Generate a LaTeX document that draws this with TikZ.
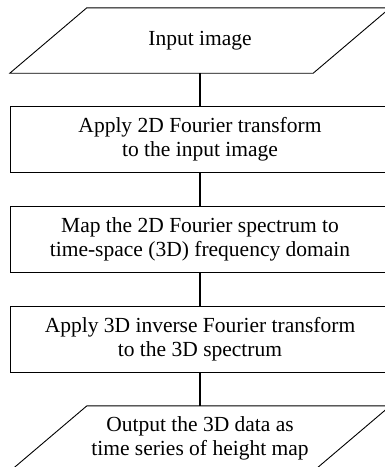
\documentclass[tikz,border=0pt]{standalone}
\usepackage{fontspec}
\setmainfont{Liberation Serif}
\usetikzlibrary{positioning}
\begin{document}
\begin{tikzpicture}[x=1pt,y=1pt,
  every node/.style={font=\fontsize{21.5}{24}\selectfont,align=center,inner sep=0pt},
  stepbox/.style={draw,line width=.9pt,minimum width=380pt,minimum height=66pt},
  iobox/.style={minimum width=303pt,minimum height=65pt},
  frame/.style={line width=.9pt},
  link/.style={line width=1.2pt}]
\useasboundingbox (0,0) rectangle (384,-467);
\node[iobox] (input) at (200,-40.5){Input image};
\node[stepbox,below=33pt of input] (fft){Apply 2D Fourier transform\\to the input image};
\node[stepbox,below=33pt of fft] (map){Map the 2D Fourier spectrum to\\time-space (3D) frequency domain};
\node[stepbox,below=33pt of map] (ifft){Apply 3D inverse Fourier transform\\to the 3D spectrum};
\node[iobox,below=33pt of ifft] (output){Output the 3D data as\\time series of height map};
% slanted in/out boxes
\foreach \n in {input,output}
  \draw[frame] ([xshift=38.5]\n.north west)--([xshift=38.5]\n.north east)
    --([xshift=-38.5]\n.south east)--([xshift=-38.5]\n.south west)--cycle;
\draw[link] (input)--(fft);
\draw[link] (fft)--(map);
\draw[link] (map)--(ifft);
\draw[link] (ifft)--(output);
\end{tikzpicture}
\end{document}
